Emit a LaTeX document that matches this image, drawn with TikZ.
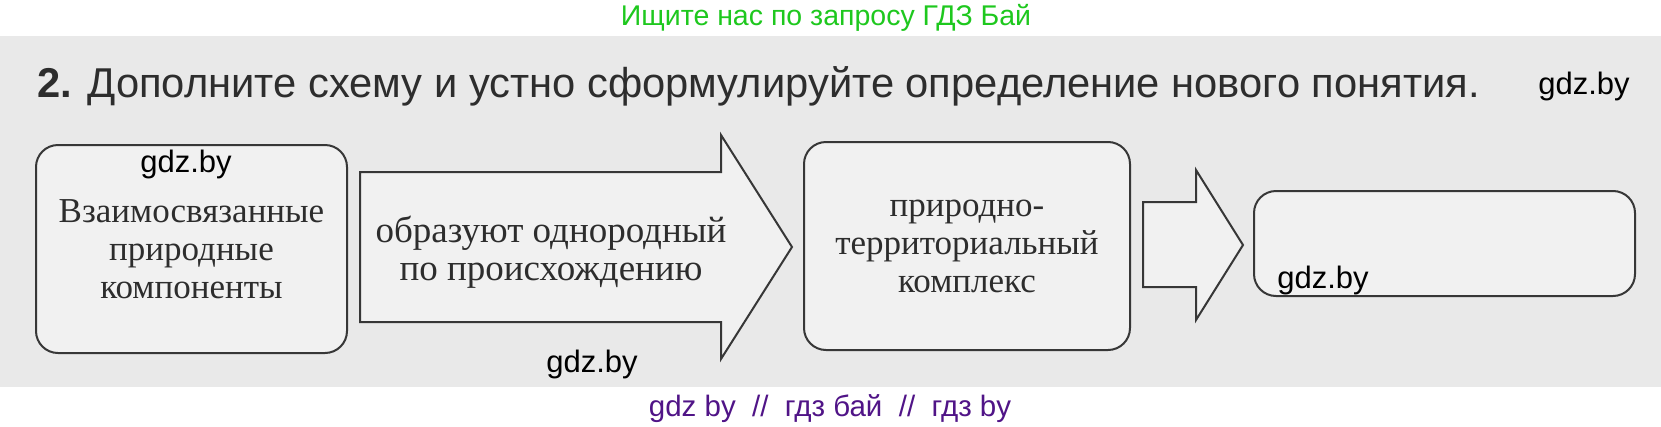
\documentclass[tikz,border=0pt]{standalone}
\usepackage{fontspec}
\setmainfont{Liberation Serif}
\newfontfamily\hsans{Liberation Sans}
\definecolor{pagegray}{RGB}{233,233,233}
\definecolor{boxfill}{RGB}{241,241,241}
\definecolor{inkgray}{RGB}{55,55,55}
\definecolor{textgray}{RGB}{45,45,45}
\definecolor{wmgreen}{RGB}{30,200,30}
\definecolor{wmpurple}{RGB}{80,20,135}
\begin{document}
\begin{tikzpicture}[x=1pt,y=-1pt,
  box/.style={draw=inkgray, line width=2pt, fill=boxfill, rounded corners=22pt, inner sep=0pt,
    align=center, text=textgray, font=\fontsize{35}{38}\selectfont},
  blockarrow/.style={draw=inkgray, line width=2pt, fill=boxfill, line join=miter},
  boxtext/.style={font=\fontsize{37}{38}\selectfont, text=textgray, align=center, inner sep=0pt},
  wm/.style={font=\hsans\fontsize{31}{31}\selectfont, text=black, inner sep=0pt, anchor=base}]
\useasboundingbox (0,0) rectangle (1661,426);
\fill[white] (0,0) rectangle (1661,426);
\fill[pagegray] (0,36) rectangle (1661,387);
% top banner
\node[anchor=base, inner sep=0pt, text=wmgreen, font=\hsans\fontsize{28.5}{28.5}\selectfont] (banner) at (826,25) {Ищите нас по запросу ГДЗ Бай};
% heading
\node[anchor=base west, inner sep=0pt, text=textgray, font=\hsans\fontsize{41.7}{41.7}\selectfont] (title) at (37,97) {\textbf{2.} Дополните схему и устно сформулируйте определение нового понятия.};
% boxes
\node[box, minimum width=311pt, minimum height=208pt] (b1) at (191.5,249) {Взаимосвязанные\\природные\\компоненты};
\node[box, minimum width=326pt, minimum height=208pt] (b2) at (967,246) {природно-\\территориальный\\комплекс};
\node[box, minimum width=381pt, minimum height=105pt] (b3) at (1444.5,243.5) {};
% arrows
\draw[blockarrow] (360,172) -- (721,172) -- (721,135) -- (792,247) -- (721,359) -- (721,322) -- (360,322) -- cycle;
\node[boxtext] (a1) at (551,252) {образуют однородный\\по происхождению};
\draw[blockarrow] (1143,202) -- (1196,202) -- (1196,170) -- (1243,245) -- (1196,320) -- (1196,287) -- (1143,287) -- cycle;
% watermarks
\node[wm] (w1) at (1584,94) {gdz.by};
\node[wm] (w2) at (186,172) {gdz.by};
\node[wm] (w3) at (592,372) {gdz.by};
\node[wm] (w4) at (1323,288) {gdz.by};
\node[anchor=base, inner sep=0pt, text=wmpurple, font=\hsans\fontsize{29.5}{29.5}\selectfont] (footer) at (830,416) {gdz by\ \ //\ \ гдз бай\ \ //\ \ гдз by};
\end{tikzpicture}
\end{document}
